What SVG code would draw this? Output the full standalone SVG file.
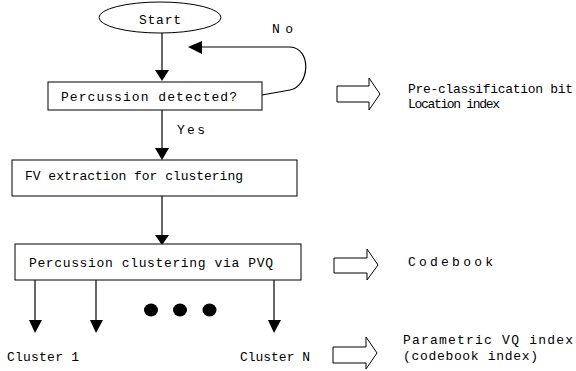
<svg xmlns="http://www.w3.org/2000/svg" width="576" height="371" viewBox="0 0 576 371">
<style>
text{font-family:"Liberation Mono","Courier New",monospace;font-size:13px;fill:#000}
.box{fill:#fff;stroke:#000;stroke-width:1}
.ln{fill:none;stroke:#000;stroke-width:1.2}
.hd{fill:#000;stroke:none}
.ho{fill:#fff;stroke:#000;stroke-width:1}
</style>
<rect width="576" height="371" fill="#fff"/>
<g id="connectors">
<line class="ln" x1="162" y1="33" x2="162" y2="72"/>
<polygon class="hd" points="155,70 169,70 162,81"/>
<path class="ln" d="M262,95 L290,90 C310,86 312,48 290,47 L200,47"/>
<polygon class="hd" points="188,47 202,41 202,54"/>
<line class="ln" x1="162" y1="110" x2="162" y2="150"/>
<polygon class="hd" points="155,148 169,148 162,160"/>
<line class="ln" x1="162" y1="196" x2="162" y2="238"/>
<polygon class="hd" points="155,235 169,235 162,245"/>
<line class="ln" x1="35" y1="280" x2="35" y2="322"/>
<polygon class="hd" points="29,320 42,320 35,333"/>
<line class="ln" x1="96" y1="280" x2="96" y2="322"/>
<polygon class="hd" points="90,320 103,320 96,333"/>
<line class="ln" x1="274" y1="280" x2="274" y2="322"/>
<polygon class="hd" points="268,320 281,320 274,333"/>
<polygon class="ho" points="337,86 369,86 369,78 380,94 369,110 369,102 337,102"/>
<polygon class="ho" points="334,258 367,258 367,249 378,265 367,280 367,273 334,273"/>
<polygon class="ho" points="333,347 366,347 366,337 377,353 366,369 366,363 333,363"/>
</g>
<g id="start">
<ellipse class="box" cx="160" cy="17.5" rx="61" ry="15.5"/>
<text x="139" y="24" textLength="42" lengthAdjust="spacing">Start</text>
</g>
<g id="detect">
<rect class="box" x="48" y="82" width="214" height="28"/>
<text x="61" y="101" textLength="176" lengthAdjust="spacing">Percussion detected?</text>
</g>
<g id="label-no"><text x="272" y="33" textLength="21" lengthAdjust="spacing">No</text></g>
<g id="label-yes"><text x="177" y="134" textLength="28" lengthAdjust="spacing">Yes</text></g>
<g id="fv">
<rect class="box" x="12" y="160" width="285" height="36"/>
<text x="25" y="180" textLength="218" lengthAdjust="spacing">FV extraction for clustering</text>
</g>
<g id="pvq">
<rect class="box" x="15" y="244" width="286" height="36"/>
<text x="29" y="267" textLength="244" lengthAdjust="spacing">Percussion clustering via PVQ</text>
</g>
<g id="dots">
<ellipse class="hd" cx="151" cy="310" rx="7" ry="6.5"/>
<ellipse class="hd" cx="180" cy="310" rx="7" ry="6.5"/>
<ellipse class="hd" cx="209.5" cy="310" rx="7" ry="6.5"/>
</g>
<g id="cluster1"><text x="7" y="361" textLength="72" lengthAdjust="spacing">Cluster 1</text></g>
<g id="clusterN"><text x="240" y="361" textLength="70" lengthAdjust="spacing">Cluster N</text></g>
<g id="out1">
<text x="408" y="93" textLength="165" lengthAdjust="spacing">Pre-classification bit</text>
<text x="408" y="108" textLength="92" lengthAdjust="spacing">Location index</text>
</g>
<g id="out2"><text x="408" y="266" textLength="85" lengthAdjust="spacing">Codebook</text></g>
<g id="out3">
<text x="403" y="344" textLength="170" lengthAdjust="spacing">Parametric VQ index</text>
<text x="403" y="360" textLength="135" lengthAdjust="spacing">(codebook index)</text>
</g>
</svg>
